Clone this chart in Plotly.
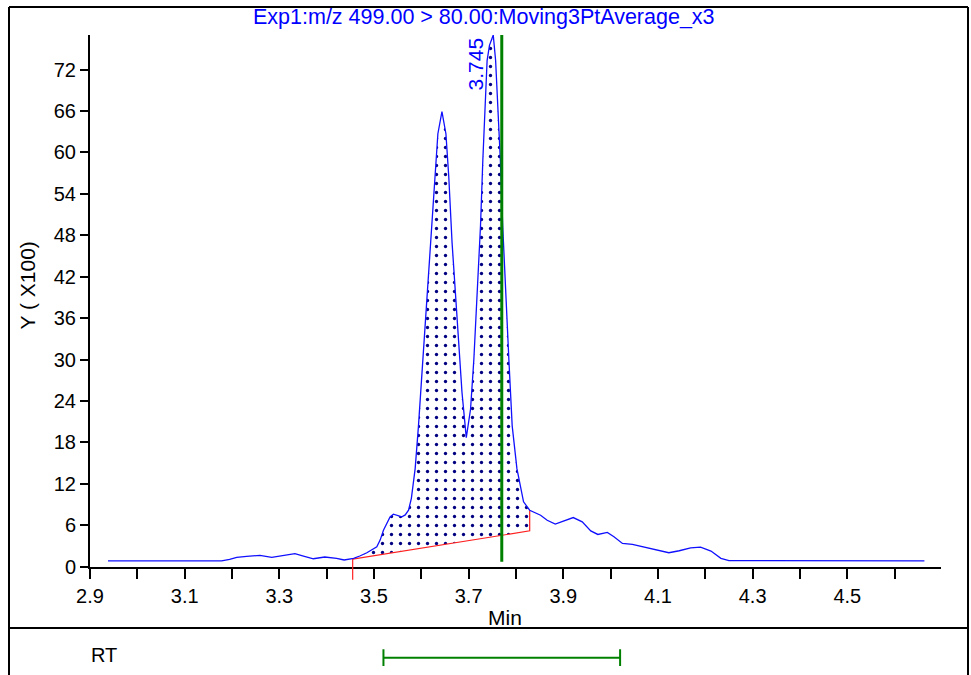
import numpy as np
import plotly.graph_objects as go

# ---------------- data ----------------
TITLE = "Exp1:m/z 499.00 > 80.00:Moving3PtAverage_x3"
Y_TITLE = "Y ( X100)"
X_TITLE = "Min"

time_min = [2.938, 3.000, 3.100, 3.178, 3.195, 3.210, 3.231, 3.259, 3.284, 3.305,
            3.333, 3.351, 3.372, 3.396, 3.421, 3.437, 3.457, 3.470, 3.485, 3.506,
            3.513, 3.520, 3.527, 3.534, 3.541, 3.550, 3.559, 3.566, 3.573, 3.579,
            3.587, 3.594, 3.601, 3.608, 3.615, 3.621, 3.628, 3.635, 3.6436, 3.652,
            3.658, 3.665, 3.672, 3.679, 3.686, 3.695, 3.704, 3.711, 3.718, 3.725,
            3.730, 3.734, 3.739, 3.744, 3.752, 3.757, 3.762, 3.767, 3.772, 3.778,
            3.785, 3.792, 3.802, 3.816, 3.829, 3.852, 3.866, 3.883, 3.901, 3.921,
            3.940, 3.958, 3.973, 3.993, 4.007, 4.025, 4.046, 4.078, 4.099, 4.123,
            4.145, 4.169, 4.190, 4.212, 4.233, 4.250, 4.663]
intensity = [0.85, 0.85, 0.85, 0.85, 1.05, 1.35, 1.50, 1.64, 1.35, 1.54,
             1.88, 1.54, 1.15, 1.40, 1.21, 0.97, 1.21, 1.55, 2.02, 2.88,
             3.85, 5.29, 6.26, 7.21, 7.60, 7.40, 7.21, 7.50, 8.18, 9.9,
             14.2, 20.4, 27.6, 34.9, 42.1, 49.3, 56.5, 62.7, 65.9, 62.7,
             56.5, 46.9, 39.7, 32.4, 25.2, 18.7, 22.8, 30.0, 39.7, 49.3,
             58.9, 66.1, 73.3, 75.5, 77.0, 73.3, 66.1, 58.9, 49.3, 39.7,
             30.0, 20.4, 14.2, 9.4, 8.18, 7.45, 6.73, 6.16, 6.63, 7.12,
             6.49, 5.19, 4.67, 4.96, 4.33, 3.37, 3.23, 2.74, 2.41, 2.02,
             2.31, 2.74, 2.84, 2.26, 1.21, 0.87, 0.85]

baseline_x = [3.455, 3.829]
baseline_y = [1.11, 5.19]

peak_rt = 3.745
peak_label = "3.745"
peak_height = 77.0

marker_rt = 3.77
marker_y = [0.72, 77.0]

rt_window = [3.52, 4.02]
rt_label = "RT"

x_range = [2.9, 4.698]
y_range = [0, 77.0]
x_tickvals = [2.9, 3.1, 3.3, 3.5, 3.7, 3.9, 4.1, 4.3, 4.5]
x_ticktext = ["2.9", "3.1", "3.3", "3.5", "3.7", "3.9", "4.1", "4.3", "4.5"]
y_tickvals = [0, 6, 12, 18, 24, 30, 36, 42, 48, 54, 60, 66, 72]
y_ticktext = ["0", "6", "12", "18", "24", "30", "36", "42", "48", "54", "60", "66", "72"]

# ---------------- layout geometry ----------------
W, H = 971, 675
ML, MR, MT, MB = 90, 30, 35, 0
PW, PH = W - ML - MR, H - MT - MB
AXIS_PY = 566.7              # pixel y of the x axis
Y_DOM = [(H - AXIS_PY) / PH, 1.0]
RT_PY = 657.7                # pixel y of the RT bar
Y2_DOM = [0.0, 2 * (H - RT_PY) / PH]


def px_x(px):
    """pixel x -> paper x"""
    return (px - ML) / PW


def px_y(py):
    """pixel y -> paper y"""
    return (H - py) / PH


def data_to_paper_y(v):
    return Y_DOM[0] + (v - y_range[0]) / (y_range[1] - y_range[0]) * (Y_DOM[1] - Y_DOM[0])


FONT = "Liberation Sans, Arial, sans-serif"
FS = 20
FS_T = 21

# ---------------- integrated area polygon ----------------
tx = np.array(time_min)
ty = np.array(intensity)
inside = (tx > baseline_x[0]) & (tx < baseline_x[1])
poly_x = [baseline_x[0]] + list(tx[inside]) + [baseline_x[1]]
poly_y = [float(np.interp(baseline_x[0], tx, ty))] + list(ty[inside]) + \
         [float(np.interp(baseline_x[1], tx, ty))]
poly_x += [baseline_x[1], baseline_x[0]]
poly_y += [baseline_y[1], baseline_y[0]]
end_curve_y = float(np.interp(baseline_x[1], tx, ty))

fig = go.Figure()

fig.add_trace(go.Scatter(
    x=poly_x, y=poly_y, mode="lines", fill="toself",
    line=dict(width=0, color="rgba(0,0,0,0)"),
    fillcolor="white",
    fillpattern=dict(shape=".", fgcolor="#000080", bgcolor="white",
                     size=9, solidity=0.11, fillmode="replace"),
    hoverinfo="skip", showlegend=False))

fig.add_trace(go.Scatter(
    x=[baseline_x[0], baseline_x[1], baseline_x[1]],
    y=[baseline_y[0], baseline_y[1], end_curve_y],
    mode="lines", line=dict(color="#ff2020", width=1.2),
    hoverinfo="skip", showlegend=False))

fig.add_trace(go.Scatter(
    x=time_min, y=intensity, mode="lines",
    line=dict(color="#1010ff", width=1.3),
    hoverinfo="skip", showlegend=False))

fig.add_trace(go.Scatter(
    x=[marker_rt, marker_rt], y=marker_y, mode="lines",
    line=dict(color="#008000", width=3),
    hoverinfo="skip", showlegend=False))

# RT window bar in the lower panel
fig.add_trace(go.Scatter(
    x=rt_window, y=[rt_label, rt_label], xaxis="x", yaxis="y2",
    mode="lines+markers",
    line=dict(color="#008000", width=2),
    marker=dict(symbol="line-ns", size=12, line=dict(color="#008000", width=2)),
    hoverinfo="skip", showlegend=False))

fig.update_layout(
    template="none",
    width=W, height=H,
    margin=dict(l=ML, r=MR, t=MT, b=MB, pad=0, autoexpand=False),
    paper_bgcolor="white", plot_bgcolor="white",
    font=dict(family=FONT, size=FS, color="black"),
    xaxis=dict(range=x_range, domain=[0, 1], anchor="y", automargin=False,
               showline=True, linecolor="black", linewidth=2,
               showgrid=False, zeroline=False,
               ticks="outside", ticklen=10, tickwidth=2, tickcolor="black",
               tickvals=x_tickvals, ticktext=x_ticktext,
               tickfont=dict(size=FS),
               minor=dict(dtick=0.1, tick0=2.9, ticks="outside", ticklen=10,
                          tickwidth=2, tickcolor="black", showgrid=False)),
    yaxis=dict(range=y_range, domain=Y_DOM, anchor="x", automargin=False,
               showline=True, linecolor="black", linewidth=2,
               showgrid=False, zeroline=False,
               ticks="outside", ticklen=8, tickwidth=2, tickcolor="black",
               tickvals=y_tickvals, ticktext=y_ticktext,
               tickfont=dict(size=FS)),
    yaxis2=dict(domain=Y2_DOM, anchor="free", position=0, type="category",
                visible=False, showgrid=False, zeroline=False, automargin=False),
)

ann = [
    dict(text=TITLE, x=px_x(484), y=px_y(17), xref="paper", yref="paper",
         xanchor="center", yanchor="middle", showarrow=False,
         font=dict(color="#0000ff", size=FS_T + 0.5)),
    dict(text=Y_TITLE, x=px_x(26.5), y=px_y(285), xref="paper", yref="paper",
         xanchor="center", yanchor="middle", textangle=-90, showarrow=False,
         font=dict(size=FS_T)),
    dict(text=X_TITLE, x=px_x(505), y=px_y(617), xref="paper", yref="paper",
         xanchor="center", yanchor="middle", showarrow=False,
         font=dict(size=FS_T)),
    dict(text=peak_label, x=peak_rt, y=peak_height, xref="x", yref="y",
         xanchor="center", yanchor="top", textangle=-90, xshift=-14,
         showarrow=False, font=dict(color="#0000ff", size=FS_T)),
    dict(text=rt_label, x=px_x(104), y=px_y(655), xref="paper", yref="paper",
         xanchor="center", yanchor="middle", showarrow=False,
         font=dict(size=FS)),
]
fig.update_layout(annotations=ann)

line_k = dict(color="black", width=2)
shapes = [
    dict(type="line", xref="paper", yref="paper", x0=px_x(9), x1=px_x(968),
         y0=px_y(7), y1=px_y(7), line=line_k),
    dict(type="line", xref="paper", yref="paper", x0=px_x(9), x1=px_x(9),
         y0=px_y(7), y1=px_y(680), line=line_k),
    dict(type="line", xref="paper", yref="paper", x0=px_x(968), x1=px_x(968),
         y0=px_y(7), y1=px_y(680), line=line_k),
    dict(type="line", xref="paper", yref="paper", x0=px_x(9), x1=px_x(968),
         y0=px_y(628), y1=px_y(628), line=line_k),
    # red start marker of the integration baseline, extending below the axis
    dict(type="line", xref="x", yref="paper", x0=baseline_x[0], x1=baseline_x[0],
         y0=data_to_paper_y(baseline_y[0]), y1=px_y(AXIS_PY + 13),
         line=dict(color="#ff2020", width=1.2)),
]
fig.update_layout(shapes=shapes)

# place the figure at the page's top-left corner (no default body margin)
fig.write_html(
    "out.html",
    config={"displayModeBar": False},
    post_script="document.body.style.margin='0';document.body.style.overflow='hidden';",
)
